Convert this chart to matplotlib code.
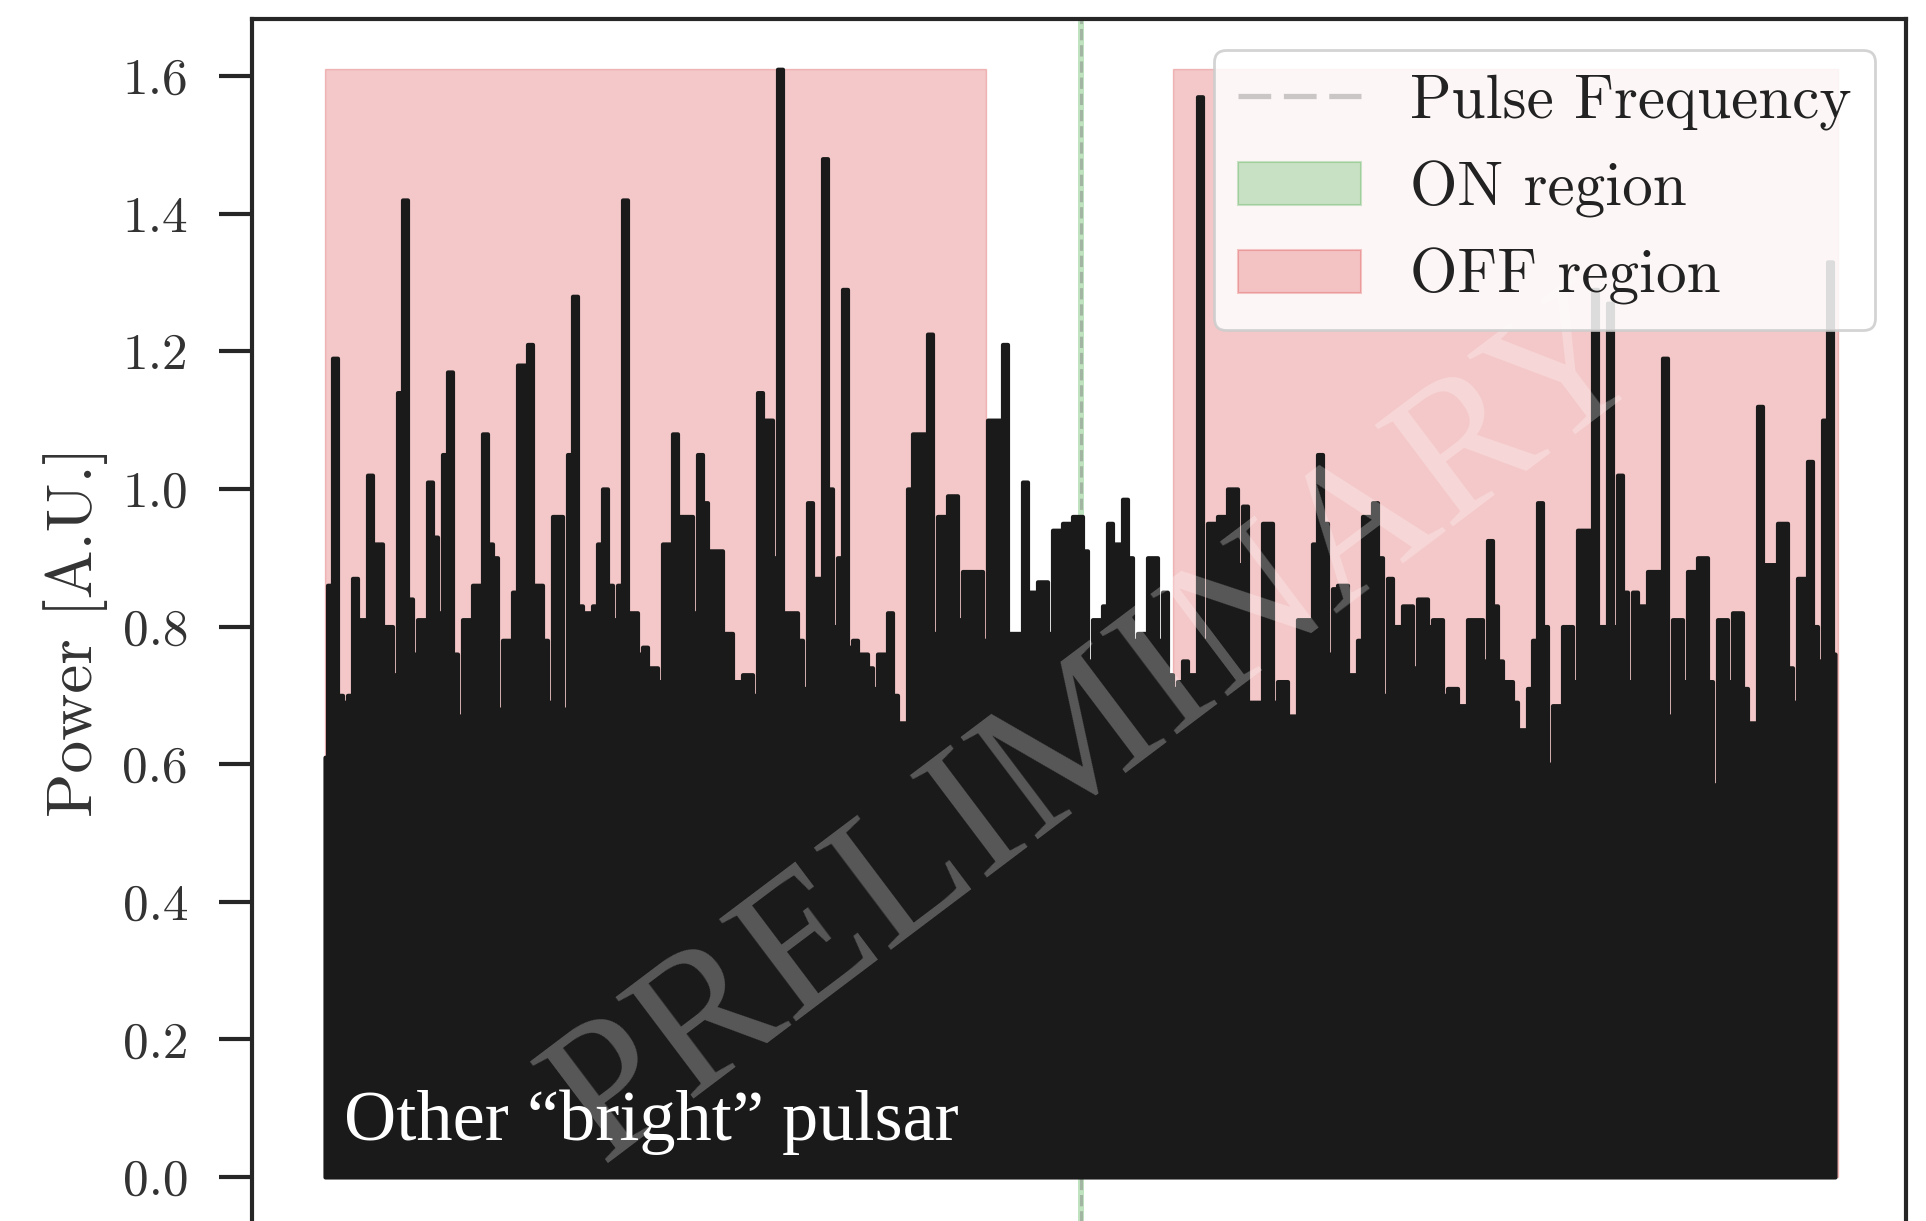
import numpy as np
import matplotlib
matplotlib.use("Agg")
import matplotlib.pyplot as plt
from matplotlib.lines import Line2D
from matplotlib.patches import Patch
from matplotlib.colors import to_rgba

# ---------------- data ----------------
power = [
    0.61, 0.86, 1.19, 0.70, 0.69, 0.70, 0.87, 0.81, 0.81, 1.02,
    0.92, 0.92, 0.80, 0.80, 0.73, 1.14, 1.42, 0.84, 0.76, 0.81,
    0.81, 1.01, 0.93, 0.82, 1.05, 1.17, 0.76, 0.67, 0.81, 0.81,
    0.86, 0.86, 1.08, 0.92, 0.90, 0.68, 0.78, 0.78, 0.85, 1.18,
    1.18, 1.21, 0.86, 0.86, 0.78, 0.69, 0.96, 0.96, 0.68, 1.05,
    1.28, 0.83, 0.82, 0.82, 0.83, 0.92, 1.00, 0.86, 0.81, 0.86,
    1.42, 0.82, 0.82, 0.76, 0.77, 0.74, 0.74, 0.72, 0.92, 0.92,
    1.08, 0.96, 0.96, 0.96, 0.82, 1.05, 0.98, 0.91, 0.91, 0.91,
    0.79, 0.79, 0.72, 0.72, 0.73, 0.73, 0.70, 1.14, 1.10, 1.10,
    0.90, 1.61, 0.82, 0.82, 0.82, 0.78, 0.71, 0.98, 0.87, 0.87,
    1.48, 1.00, 0.80, 0.90, 1.29, 0.77, 0.78, 0.76, 0.76, 0.74,
    0.71, 0.76, 0.76, 0.82, 0.70, 0.66, 0.66, 1.00, 1.08, 1.08,
    1.08, 1.225, 0.79, 0.96, 0.96, 0.99, 0.99, 0.81, 0.88, 0.88,
    0.88, 0.88, 0.78, 1.10, 1.10, 1.10, 1.21, 0.79, 0.79, 0.79,
    1.01, 0.85, 0.85, 0.865, 0.865, 0.79, 0.94, 0.94, 0.95, 0.95,
    0.96, 0.96, 0.91, 0.75, 0.81, 0.81, 0.83, 0.95, 0.92, 0.92,
    0.985, 0.90, 0.78, 0.79, 0.79, 0.90, 0.90, 0.78, 0.85, 0.73,
    0.71, 0.72, 0.75, 0.73, 0.73, 1.57, 0.78, 0.95, 0.95, 0.96,
    0.96, 1.00, 1.00, 0.89, 0.975, 0.69, 0.69, 0.69, 0.95, 0.95,
    0.69, 0.72, 0.72, 0.67, 0.67, 0.81, 0.81, 0.81, 0.92, 1.05,
    0.95, 0.76, 0.855, 0.86, 0.86, 0.73, 0.73, 0.78, 0.96, 0.96,
    0.98, 0.90, 0.70, 0.87, 0.80, 0.80, 0.83, 0.83, 0.74, 0.84,
    0.84, 0.80, 0.81, 0.81, 0.70, 0.71, 0.71, 0.685, 0.685, 0.81,
    0.81, 0.81, 0.75, 0.925, 0.83, 0.75, 0.72, 0.72, 0.69, 0.65,
    0.65, 0.71, 0.78, 0.98, 0.80, 0.60, 0.685, 0.685, 0.80, 0.80,
    0.72, 0.94, 0.94, 0.94, 1.29, 0.80, 0.80, 1.27, 0.80, 1.02,
    0.85, 0.72, 0.85, 0.83, 0.83, 0.88, 0.88, 0.88, 1.19, 0.67,
    0.81, 0.81, 0.72, 0.88, 0.88, 0.90, 0.90, 0.72, 0.57, 0.81,
    0.81, 0.72, 0.82, 0.82, 0.71, 0.66, 0.66, 1.12, 0.89, 0.89,
    0.89, 0.95, 0.95, 0.74, 0.69, 0.87, 0.87, 1.04, 0.80, 0.75,
    1.10, 1.33, 0.76,
]
pulse_bin = 151.2
on_region = [150.6, 151.8]
off_regions = [[0.0, 132.2], [169.6, 302.6]]
yticks = [0.0, 0.2, 0.4, 0.6, 0.8, 1.0, 1.2, 1.4, 1.6]
ytick_labels = ["0.0", "0.2", "0.4", "0.6", "0.8", "1.0", "1.2", "1.4", "1.6"]
ylabel = "Power [A.U.]"
legend_labels = ["Pulse Frequency", "ON region", "OFF region"]
annotation = "Other \u201cbright\u201d pulsar"
watermark = "PRELIMINARY"

# ---------------- style ----------------
W, H = 1926, 1221
plt.rcParams["font.family"] = "serif"
plt.rcParams["font.serif"] = ["cmr10", "DejaVu Serif"]
plt.rcParams["mathtext.fontset"] = "cm"
plt.rcParams["axes.formatter.use_mathtext"] = True
plt.rcParams["axes.unicode_minus"] = False

fig = plt.figure(figsize=(W / 100, H / 100), dpi=100)


def fx(px):
    return px / W


def fy(py):
    return 1 - py / H


ax = fig.add_axes([fx(252), fy(1232), fx(1906) - fx(252), fy(19) - fy(1232)])

x = np.arange(len(power))
ymax = max(power)
red = "tab:red"
green = "tab:green"

for a, b in off_regions:
    ax.fill_between([a, b], 0, ymax, color=red, alpha=0.25, lw=1.0, zorder=1)
ax.axvspan(on_region[0], on_region[1], color=green, alpha=0.3, lw=0, zorder=1)
ax.axvline(pulse_bin, color="grey", alpha=0.45, lw=2.2, ls=(0, (3.7, 1.6)), zorder=1.5)

coll = ax.fill_between(x, 0, power, step="mid", facecolor="#1a1a1a",
                       edgecolor="#1a1a1a", lw=3.0, zorder=2)
try:
    coll.set_joinstyle("round")
except Exception:
    pass

ax.set_xlim(-14.6, 316.2)
ax.set_ylim(-0.08, 1.683)
ax.set_yticks(yticks)
ax.set_yticklabels(ytick_labels)
ax.tick_params(axis="y", which="major", length=24, width=3, pad=22,
               labelsize=37, color="#262626", labelcolor="#333333",
               right=False, left=True)
ax.tick_params(axis="x", bottom=False, labelbottom=False)
for s in ax.spines.values():
    s.set_linewidth(3)
    s.set_color("#262626")

ax.set_ylabel(ylabel, fontsize=47, color="#333333")
ax.yaxis.set_label_coords(-0.087, 0.495)

handles = [
    Line2D([], [], color="grey", alpha=0.4, lw=3.8, ls=(0, (6.2, 2.4))),
    Patch(facecolor=to_rgba(green, 0.25), edgecolor=to_rgba(green, 0.25), lw=1.5),
    Patch(facecolor=to_rgba(red, 0.25), edgecolor=to_rgba(red, 0.25), lw=1.5),
]
leg = ax.legend(handles, legend_labels, loc="upper right", fontsize=44,
                frameon=True, fancybox=True, framealpha=0.85, edgecolor="0.8",
                borderaxespad=0.5)
leg.get_frame().set_linewidth(2)
for t in leg.get_texts():
    t.set_color("#222222")
leg.set_zorder(5)

ax.text(fx(1100), fy(730), watermark, transform=fig.transFigure, rotation=37,
        rotation_mode="anchor", ha="center", va="center", fontsize=140,
        family="Liberation Serif", color="white", alpha=0.27, zorder=4)

ax.text(fx(344), fy(1140), annotation, transform=fig.transFigure,
        ha="left", va="baseline", fontsize=52, family="Liberation Serif",
        color="white", zorder=6)

fig.savefig("out.png", dpi=100)
